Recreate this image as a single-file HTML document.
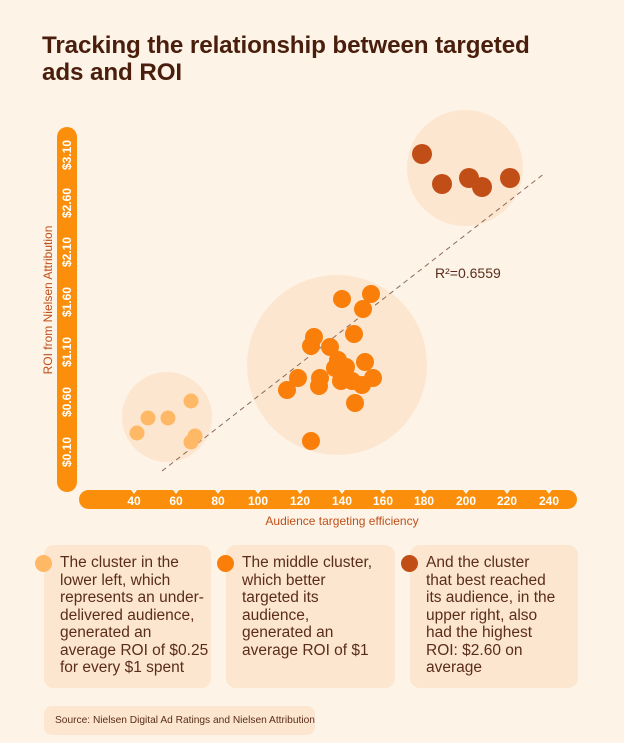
<!DOCTYPE html>
<html><head><meta charset="utf-8"><style>
body{margin:0;background:#fdf3e7;width:624px;height:743px;position:relative;overflow:hidden;font-family:"Liberation Sans",sans-serif;}
.t{position:absolute;left:42px;top:32px;font-size:24.2px;font-weight:bold;color:#4a1e0c;line-height:27px;letter-spacing:-0.1px}
.box{position:absolute;top:545px;height:143px;background:#fce6cf;border-radius:10px;box-sizing:border-box;padding:9px 0 0 16px;font-size:15.5px;line-height:17.5px;color:#5a2d1a;white-space:nowrap;letter-spacing:0}
.dot{position:absolute;width:17px;height:17px;border-radius:50%;left:-9px;top:10px}
.src{position:absolute;left:44px;top:706px;width:271px;height:29px;background:#fce6cf;border-radius:8px;font-size:10.2px;color:#5a2d1a;line-height:29px;padding-left:11px;box-sizing:border-box;white-space:nowrap}
</style></head><body>
<div class="t">Tracking the relationship between targeted<br>ads and ROI</div>
<svg width="624" height="743" style="position:absolute;left:0;top:0">
<g font-family="Liberation Sans" font-weight="bold" font-size="12" fill="#fff">
<rect x="57" y="127" width="20" height="365" rx="10" fill="#fb8f0c"/>
<rect x="79" y="490" width="498" height="19" rx="9.5" fill="#fb8f0c"/>
<path fill="#fdf3e7" d="M131,490 l3,4 l3,-4z M173,490 l3,4 l3,-4z M215,490 l3,4 l3,-4z M255,490 l3,4 l3,-4z M297,490 l3,4 l3,-4z M339,490 l3,4 l3,-4z M380,490 l3,4 l3,-4z M421,490 l3,4 l3,-4z M463,490 l3,4 l3,-4z M504,490 l3,4 l3,-4z M546,490 l3,4 l3,-4z"/>
<g text-anchor="middle">
<text transform="translate(71,155) rotate(-90)">$3.10</text>
<text transform="translate(71,203) rotate(-90)">$2.60</text>
<text transform="translate(71,252) rotate(-90)">$2.10</text>
<text transform="translate(71,302) rotate(-90)">$1.60</text>
<text transform="translate(71,352) rotate(-90)">$1.10</text>
<text transform="translate(71,402) rotate(-90)">$0.60</text>
<text transform="translate(71,452) rotate(-90)">$0.10</text>
<text x="134" y="505">40</text><text x="176" y="505">60</text><text x="218" y="505">80</text>
<text x="258" y="505">100</text><text x="300" y="505">120</text><text x="342" y="505">140</text>
<text x="383" y="505">160</text><text x="424" y="505">180</text><text x="466" y="505">200</text>
<text x="507" y="505">220</text><text x="549" y="505">240</text>
</g></g>
<g font-family="Liberation Sans" font-size="12" fill="#c0501a" text-anchor="middle">
<text transform="translate(52,300) rotate(-90)">ROI from Nielsen Attribution</text>
<text x="342" y="525">Audience targeting efficiency</text>
</g>
<circle cx="167" cy="417" r="45" fill="#fde6cf"/>
<circle cx="337" cy="365" r="90" fill="#fde6cf"/>
<circle cx="465" cy="168" r="58" fill="#fde6cf"/>
<line x1="162" y1="471" x2="545" y2="173" stroke="#8a6a5a" stroke-width="1" stroke-dasharray="5,4"/>
<text x="435" y="278" font-family="Liberation Sans" font-size="14" fill="#5a2d1a">R²=0.6559</text>
<g fill="#ffb866">
<circle cx="137" cy="433" r="7.5"/><circle cx="148" cy="418" r="7.5"/><circle cx="168" cy="418" r="7.5"/><circle cx="191" cy="401" r="7.5"/><circle cx="195" cy="436" r="7.5"/><circle cx="191" cy="442" r="7.5"/>
</g>
<g fill="#f97f0a">
<circle cx="342" cy="299" r="9"/><circle cx="371" cy="294" r="9"/><circle cx="363" cy="309" r="9"/><circle cx="314" cy="337" r="9"/><circle cx="311" cy="346" r="9"/><circle cx="354" cy="334" r="9"/><circle cx="330" cy="347" r="9"/><circle cx="338" cy="360" r="9"/><circle cx="365" cy="362" r="9"/><circle cx="335" cy="368" r="9"/><circle cx="346" cy="367" r="9"/><circle cx="298" cy="378" r="9"/><circle cx="287" cy="390" r="9"/><circle cx="320" cy="378" r="9"/><circle cx="319" cy="386" r="9"/><circle cx="341" cy="381" r="9"/><circle cx="352" cy="381" r="9"/><circle cx="362" cy="385" r="9"/><circle cx="373" cy="378" r="9"/><circle cx="355" cy="403" r="9"/><circle cx="311" cy="441" r="9"/>
</g>
<g fill="#c24e17">
<circle cx="422" cy="154" r="10"/><circle cx="442" cy="184" r="10"/><circle cx="469" cy="178" r="10"/><circle cx="482" cy="187" r="10"/><circle cx="510" cy="178" r="10"/>
</g>
</svg>
<div class="box" style="left:44px;width:167px"><div class="dot" style="background:#ffb866"></div>The cluster in the<br>lower left, which<br>represents an under-<br>delivered audience,<br>generated an<br>average ROI of $0.25<br>for every $1 spent</div>
<div class="box" style="left:226px;width:169px"><div class="dot" style="background:#f97f0a"></div>The middle cluster,<br>which better<br>targeted its<br>audience,<br>generated an<br>average ROI of $1</div>
<div class="box" style="left:410px;width:168px"><div class="dot" style="background:#c24e17"></div>And the cluster<br>that best reached<br>its audience, in the<br>upper right, also<br>had the highest<br>ROI: $2.60 on<br>average</div>
<div class="src">Source: Nielsen Digital Ad Ratings and Nielsen Attribution</div>
</body></html>
